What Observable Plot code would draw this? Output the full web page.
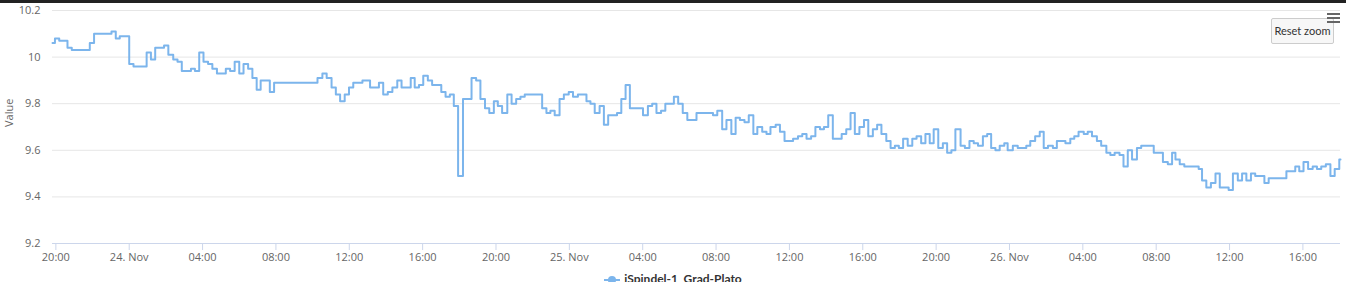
<!DOCTYPE html>
<html>
<head>
<meta charset="utf-8">
<script src="https://cdn.jsdelivr.net/npm/d3@7"></script>
<script src="https://cdn.jsdelivr.net/npm/@observablehq/plot@0.6"></script>
<style>
  html, body { margin: 0; padding: 0; background: #fff; }
  body { position: relative; width: 1346px; height: 282px; overflow: hidden; font-family: "Open Sans", "DejaVu Sans", sans-serif; }
  #topband { position: absolute; left: 0; top: 0; width: 1346px; height: 3px; background: #222; }
  #reset { position: absolute; left: 1271px; top: 18px; width: 61px; height: 24px; background: #f7f7f7; border: 1px solid #cccccc; border-radius: 2px; font-family: Lato, "Open Sans", sans-serif; font-size: 11px; color: #333; text-align: center; line-height: 24px; }
  .bar { position: absolute; left: 1327px; width: 13px; height: 2px; background: #666; }
  #legend { margin-top: 3px; text-align: center; font-family: Lato, "Open Sans", sans-serif; font-size: 12px; font-weight: bold; color: #333; line-height: 16px; white-space: nowrap; }
  #legend svg { vertical-align: middle; margin-right: 4px; }
</style>
</head>
<body>
<div id="chart"></div>
<div id="legend"><svg width="16" height="10"><line x1="0" y1="5" x2="16" y2="5" stroke="#7cb5ec" stroke-width="2"></line><circle cx="8" cy="5" r="4" fill="#7cb5ec"></circle></svg><span id="legend-text"></span></div>
<div id="topband"></div>
<div id="reset">Reset zoom</div>
<div class="bar" style="top:13px"></div>
<div class="bar" style="top:17px"></div>
<div class="bar" style="top:21px"></div>
<script>
const seriesName = "iSpindel-1_Grad-Plato";
const yAxisTitle = "Value";
const startTime = "2019-11-23T20:00:00Z";
const yTicks = [9.2, 9.4, 9.6, 9.8, 10.0, 10.2];

// minutes from startTime at which each reading changes
const minutesFromStart = [
  -11, -3, 11, 38, 52, 111, 125, 182, 196, 209, 240, 254, 297, 311, 325, 354, 368, 384, 398, 412,
  442, 455, 469, 483, 498, 512, 527, 556, 570, 585, 600, 614, 629, 643, 657, 670, 700, 714, 856, 872,
  886, 902, 916, 930, 945, 959, 973, 1003,
  1028, 1057, 1071, 1086, 1101, 1117, 1131, 1161, 1174, 1188, 1202, 1217, 1231, 1261, 1275, 1289, 1302, 1316,
  1332, 1360, 1375, 1389, 1404, 1418, 1433, 1446, 1460, 1477, 1491, 1506, 1520, 1534, 1591, 1605, 1618, 1632,
  1648, 1662, 1678, 1692, 1708, 1736, 1749, 1763, 1779, 1793, 1807, 1836, 1850, 1864, 1878, 1921, 1937, 1951,
  1965, 1980, 1994, 2022, 2036, 2051,
  2066, 2096, 2150, 2164, 2180, 2194, 2210, 2224, 2238, 2253, 2267, 2282, 2295, 2311, 2325, 2338, 2355, 2369,
  2384, 2412, 2428, 2442, 2456, 2471, 2485, 2500, 2513, 2527, 2542, 2571, 2586, 2600, 2614, 2629, 2644, 2658,
  2673, 2687, 2701, 2717, 2731, 2745, 2758, 2772, 2787, 2802, 2816, 2831, 2845, 2859, 2872, 2887, 2902, 2916,
  2930, 2943, 2960, 2974, 2989, 3003, 3017, 3033, 3047, 3060, 3074, 3088, 3103,
  3114, 3131, 3147, 3175, 3188, 3204, 3219, 3232, 3246, 3262, 3275, 3303, 3319, 3332, 3346, 3363, 3376, 3390,
  3406, 3420, 3437, 3450, 3464, 3480, 3493, 3507, 3521, 3537, 3551,
  3592, 3622, 3638, 3652, 3663, 3677, 3692, 3739, 3750, 3764, 3779, 3794, 3808, 3837, 3851, 3867, 3881, 3895,
  3910, 3924, 3954, 3968, 4026, 4055, 4068, 4082, 4097, 4112, 4126, 4140, 4155, 4170, 4184, 4199, 4203
];

const plato = [
  10.06, 10.08, 10.07, 10.04, 10.03, 10.06, 10.10, 10.11, 10.08, 10.09, 9.97, 9.96, 10.02, 9.99, 10.04, 10.05, 10.01, 9.99, 9.98, 9.94,
  9.95, 9.94, 10.02, 9.98, 9.97, 9.95, 9.93, 9.95, 9.94, 9.98, 9.93, 9.97, 9.95, 9.91, 9.86, 9.90, 9.85, 9.89, 9.91, 9.93,
  9.91, 9.87, 9.84, 9.81, 9.84, 9.87, 9.89, 9.90,
  9.87, 9.89, 9.84, 9.85, 9.87, 9.90, 9.87, 9.91, 9.87, 9.88, 9.92, 9.90, 9.88, 9.85, 9.83, 9.84, 9.79, 9.49,
  9.82, 9.91, 9.90, 9.82, 9.78, 9.76, 9.81, 9.79, 9.76, 9.84, 9.80, 9.82, 9.83, 9.84, 9.78, 9.76, 9.77, 9.75,
  9.82, 9.84, 9.85, 9.83, 9.84, 9.81, 9.80, 9.76, 9.79, 9.71, 9.75, 9.76, 9.82, 9.88, 9.78, 9.75, 9.79, 9.80,
  9.76, 9.77, 9.80, 9.83, 9.80, 9.76,
  9.73, 9.76, 9.75, 9.77, 9.69, 9.73, 9.67, 9.74, 9.73, 9.72, 9.75, 9.67, 9.70, 9.68, 9.67, 9.70, 9.71, 9.68,
  9.64, 9.65, 9.66, 9.67, 9.65, 9.66, 9.70, 9.69, 9.70, 9.75, 9.65, 9.67, 9.69, 9.76, 9.67, 9.70, 9.73, 9.66,
  9.69, 9.71, 9.67, 9.64, 9.61, 9.62, 9.61, 9.65, 9.62, 9.65, 9.66, 9.63, 9.67, 9.63, 9.69, 9.61, 9.63, 9.59,
  9.60, 9.69, 9.62, 9.61, 9.64, 9.63, 9.62, 9.66, 9.67, 9.61, 9.60, 9.62, 9.63,
  9.60, 9.62, 9.61, 9.62, 9.64, 9.66, 9.68, 9.61, 9.62, 9.61, 9.64, 9.63, 9.65, 9.66, 9.68, 9.67, 9.68, 9.66,
  9.64, 9.62, 9.59, 9.58, 9.59, 9.58, 9.53, 9.60, 9.56, 9.61, 9.62,
  9.59, 9.55, 9.54, 9.59, 9.56, 9.54, 9.53, 9.52, 9.47, 9.44, 9.46, 9.50, 9.44, 9.43, 9.50, 9.47, 9.50, 9.47,
  9.50, 9.49, 9.46, 9.48, 9.51, 9.53, 9.51, 9.55, 9.52, 9.53, 9.52, 9.53, 9.54, 9.49, 9.52, 9.56, 9.56
];

const t0 = Date.parse(startTime);
const data = minutesFromStart.map((m, i) => ({ time: new Date(t0 + m * 60000), value: plato[i] }));

const fmtDay = d3.utcFormat("%d. %b");
const fmtHour = d3.utcFormat("%H:%M");
const xTickFormat = d => (d.getUTCHours() === 0 && d.getUTCMinutes() === 0) ? fmtDay(d) : fmtHour(d);

const chart = Plot.plot({
  width: 1346,
  height: 268,
  marginLeft: 52,
  marginRight: 6,
  marginTop: 10,
  marginBottom: 25,
  style: { fontFamily: "'Open Sans', 'DejaVu Sans', sans-serif", fontSize: "11px", background: "transparent" },
  x: { type: "utc", domain: d3.extent(data, d => d.time) },
  y: { domain: [9.2, 10.2] },
  marks: [
    Plot.gridY(yTicks, { stroke: "#e6e6e6", strokeOpacity: 1 }),
    Plot.ruleY([9.2], { stroke: "#ccd6eb" }),
    Plot.axisY(yTicks, { tickSize: 0, tickPadding: 12, fill: "#666", label: null, tickFormat: d => String(+d.toFixed(1)) }),
    Plot.axisX({ ticks: d3.utcHour.every(4), tickFormat: xTickFormat, tickSize: 7, tickPadding: 3, stroke: "#ccd6eb", fill: "#666", label: null }),
    Plot.text([yAxisTitle], { frameAnchor: "left", dx: -43, rotate: -90, fill: "#666", fontSize: 11 }),
    Plot.lineY(data, { x: "time", y: "value", curve: "step-after", stroke: "#7cb5ec", strokeWidth: 2 })
  ]
});
document.getElementById("chart").appendChild(chart);
document.getElementById("legend-text").textContent = seriesName;
</script>
</body>
</html>
